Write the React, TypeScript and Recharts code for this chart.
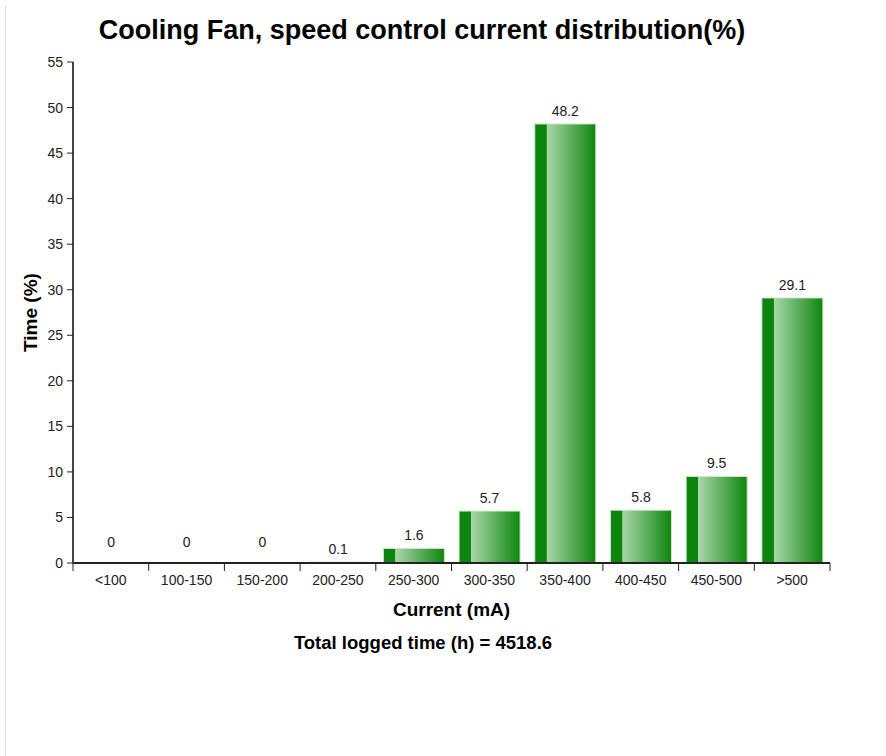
import React from 'react';
import { BarChart, Bar, XAxis, YAxis, LabelList, Label, Cell } from 'recharts';

const categories = ['<100', '100-150', '150-200', '200-250', '250-300', '300-350', '350-400', '400-450', '450-500', '>500'];
const timePercent = [0, 0, 0, 0.1, 1.6, 5.7, 48.2, 5.8, 9.5, 29.1];
const yTicks = [0, 5, 10, 15, 20, 25, 30, 35, 40, 45, 50, 55];
const titleText = 'Cooling Fan, speed control current distribution(%)';
const totalText = 'Total logged time (h) = 4518.6';

const data = categories.map((c, i) => ({ cat: c, value: timePercent[i] }));

const FONT = 'Arial, "Liberation Sans", sans-serif';

const XTick = (props: any) => {
  const { x, y, payload, index, visibleTicksCount } = props;
  const off = payload && payload.offset ? payload.offset : 0;
  const axisY = y - 12;
  return (
    <g>
      <line x1={x - off} x2={x - off} y1={axisY} y2={axisY + 8} stroke="#222" strokeWidth={1} />
      {index === visibleTicksCount - 1 ? (
        <line x1={x + off} x2={x + off} y1={axisY} y2={axisY + 8} stroke="#222" strokeWidth={1} />
      ) : null}
      <text x={x} y={y} dy="0.71em" textAnchor="middle" fontSize={14} fill="#222" fontFamily={FONT}>
        {payload.value}
      </text>
    </g>
  );
};

const BarValueLabel = (props: any) => {
  const { x, y, width, value } = props;
  const extra = value === 0 ? 7 : 0;
  return (
    <text x={x + width / 2} y={y - 8 - extra} textAnchor="middle" fontSize={14} fill="#222" fontFamily={FONT}>
      {value}
    </text>
  );
};

export default function App() {
  return (
    <div style={{ position: 'absolute', left: 0, top: 0, width: 886, height: 756, background: '#fff', fontFamily: FONT }}>
      <div style={{ position: 'absolute', left: 5, top: 5, width: 1, height: 751, background: '#e2e2e2' }} />
      <div
        style={{
          position: 'absolute', left: 0, top: 14, width: 844, height: 32, lineHeight: '32px',
          textAlign: 'center', fontSize: 27, fontWeight: 'bold', color: '#000', fontFamily: FONT,
        }}
      >
        {titleText}
      </div>
      <div
        style={{
          position: 'absolute', left: 0, top: 631, width: 846, height: 24, lineHeight: '24px',
          textAlign: 'center', fontSize: 18.5, fontWeight: 'bold', color: '#000', fontFamily: FONT,
        }}
      >
        {totalText}
      </div>
      <div style={{ position: 'absolute', left: 0, top: 0 }}>
        <BarChart
          width={886}
          height={756}
          data={data}
          margin={{ top: 62, right: 56, bottom: 163, left: 23 }}
          barCategoryGap="10%"
        >
          <defs>
            <linearGradient id="barGrad" x1="0" y1="0" x2="1" y2="0">
              <stop offset="0%" stopColor="#0b850b" />
              <stop offset="19%" stopColor="#0b850b" />
              <stop offset="20%" stopColor="#a9d6a9" />
              <stop offset="100%" stopColor="#0d860d" />
            </linearGradient>
          </defs>
          <XAxis
            dataKey="cat"
            type="category"
            height={30}
            tickSize={8}
            tickMargin={4}
            tickLine={false}
            axisLine={{ stroke: '#222', strokeWidth: 2 }}
            tick={<XTick />}
            interval={0}
          >
            <Label
              content={(p: any) => {
                const vb = p.viewBox || {};
                return (
                  <text
                    x={vb.x + vb.width / 2}
                    y={vb.y + 46}
                    textAnchor="middle"
                    dominantBaseline="central"
                    fontSize={19}
                    fontWeight="bold"
                    fill="#000"
                    fontFamily={FONT}
                  >
                    Current (mA)
                  </text>
                );
              }}
            />
          </XAxis>
          <YAxis
            type="number"
            domain={[0, 55]}
            ticks={yTicks}
            width={50}
            tickSize={6}
            tickMargin={4}
            interval={0}
            axisLine={{ stroke: '#444', strokeWidth: 2 }}
            tickLine={{ stroke: '#222', strokeWidth: 1 }}
            tick={{ fontSize: 14, fill: '#222', fontFamily: FONT }}
          >
            <Label
              content={(p: any) => {
                const vb = p.viewBox || {};
                const cx = vb.x + 7;
                const cy = vb.y + vb.height / 2;
                return (
                  <text
                    x={cx}
                    y={cy}
                    transform={`rotate(-90, ${cx}, ${cy})`}
                    textAnchor="middle"
                    dominantBaseline="central"
                    fontSize={19}
                    fontWeight="bold"
                    fill="#000"
                    fontFamily={FONT}
                  >
                    Time (%)
                  </text>
                );
              }}
            />
          </YAxis>
          <Bar
            dataKey="value"
            fill="url(#barGrad)"
            stroke="#cfe6cf"
            strokeWidth={1}
            minPointSize={(v: any) => (v === 0 ? 1 : 0)}
            isAnimationActive={false}
          >
            {data.map((d, i) => (
              <Cell
                key={i}
                fill={d.value === 0 ? 'none' : 'url(#barGrad)'}
                stroke={d.value === 0 ? 'none' : '#cfe6cf'}
              />
            ))}
            <LabelList dataKey="value" content={<BarValueLabel />} />
          </Bar>
        </BarChart>
      </div>
    </div>
  );
}
